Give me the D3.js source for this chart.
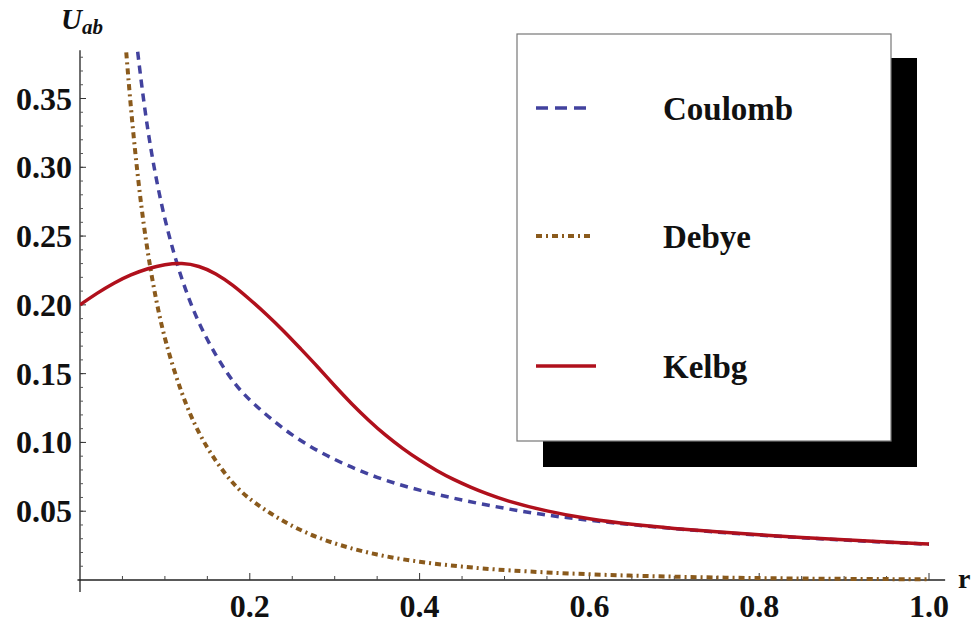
<!DOCTYPE html>
<html>
<head>
<meta charset="utf-8">
<script src="https://cdn.jsdelivr.net/npm/d3@7"></script>
<style>
  body { margin: 0; background: #fff; }
  text { font-family: "Liberation Serif", "Times New Roman", serif; font-weight: bold; }
</style>
</head>
<body>
<div id="chart"></div>
<script>
// chart size
const WIDTH = 977;
const HEIGHT = 624;

// series (r, U_ab)
const coulombR = [0.066, 0.075, 0.085, 0.10, 0.12, 0.14, 0.16, 0.18, 0.20, 0.25, 0.30, 0.35, 0.40, 0.45, 0.50, 0.55, 0.60, 0.70, 0.80, 0.90, 1.00];
const coulombU = [0.394, 0.347, 0.306, 0.260, 0.217, 0.186, 0.163, 0.144, 0.130, 0.104, 0.087, 0.074, 0.065, 0.058, 0.052, 0.047, 0.0433, 0.0371, 0.0325, 0.0289, 0.026];

const debyeR = [0.053, 0.06, 0.07, 0.08, 0.09, 0.10, 0.12, 0.14, 0.16, 0.18, 0.20, 0.25, 0.30, 0.35, 0.40, 0.45, 0.50, 0.60, 0.70, 0.80, 0.90, 1.00];
const debyeU = [0.395, 0.341, 0.281, 0.236, 0.202, 0.174, 0.134, 0.106, 0.086, 0.070, 0.058, 0.038, 0.026, 0.018, 0.013, 0.0096, 0.0070, 0.0039, 0.0023, 0.0013, 0.0008, 0.0005];

const kelbgR = [0, 0.02, 0.04, 0.06, 0.08, 0.10, 0.12, 0.14, 0.16, 0.18, 0.20, 0.22, 0.24, 0.26, 0.28, 0.30, 0.32, 0.34, 0.36, 0.38, 0.40, 0.42, 0.44, 0.46, 0.48, 0.50, 0.55, 0.60, 0.65, 0.70, 0.75, 0.80, 0.85, 0.90, 0.95, 1.00];
const kelbgU = [0.200, 0.2085, 0.216, 0.222, 0.2265, 0.2295, 0.2305, 0.2285, 0.223, 0.2145, 0.204, 0.193, 0.181, 0.168, 0.155, 0.141, 0.128, 0.116, 0.105, 0.0955, 0.087, 0.0795, 0.073, 0.0675, 0.0625, 0.058, 0.0498, 0.0442, 0.0403, 0.0374, 0.0350, 0.0329, 0.0309, 0.0292, 0.0276, 0.0262];

const seriesNames = ["Coulomb", "Debye", "Kelbg"];

// tick labels
const xTicks = [0.2, 0.4, 0.6, 0.8, 1.0];
const yTicks = [0.05, 0.10, 0.15, 0.20, 0.25, 0.30, 0.35];

let series = [
    { name: seriesNames[0], r: coulombR, u: coulombU, color: "#42429e", width: 3.5, dash: "8,6" },
    { name: seriesNames[1], r: debyeR, u: debyeU, color: "#8a5a1c", width: 4, dash: "6,4,2,4" },
    { name: seriesNames[2], r: kelbgR, u: kelbgU, color: "#b0101c", width: 3.5, dash: null }
];

let xScale = d3.scaleLinear().domain([0, 1]).range([80, 929]);
let yScale = d3.scaleLinear().domain([0, 0.35]).range([580, 98.5]);

let svg = d3.select("#chart")
    .append("svg")
    .attr("width", WIDTH)
    .attr("height", HEIGHT);

// clip to plot range
svg.append("clipPath")
    .attr("id", "plotclip")
    .append("rect")
    .attr("x", xScale(0))
    .attr("y", yScale(0.385))
    .attr("width", xScale(1.02) - xScale(0))
    .attr("height", yScale(0) - yScale(0.385) + 2);

// x axis
let gx = svg.append("g")
    .attr("transform", "translate(0," + yScale(0) + ")");

gx.append("line")
    .attr("x1", xScale(-0.003)).attr("x2", xScale(1.019))
    .attr("stroke", "#222").attr("stroke-width", 1.3);

gx.selectAll(".minor")
    .data(d3.range(1, 20).map(i => i * 0.05).filter(v => Math.abs(v * 5 - Math.round(v * 5)) > 1e-6))
    .enter().append("line")
    .attr("x1", d => xScale(d)).attr("x2", d => xScale(d))
    .attr("y1", 0).attr("y2", -4)
    .attr("stroke", "#444").attr("stroke-width", 1);

gx.selectAll(".major")
    .data(xTicks)
    .enter().append("line")
    .attr("x1", d => xScale(d)).attr("x2", d => xScale(d))
    .attr("y1", 0).attr("y2", -7)
    .attr("stroke", "#333").attr("stroke-width", 1);

gx.selectAll(".xlabel")
    .data(xTicks)
    .enter().append("text")
    .attr("x", d => xScale(d))
    .attr("y", 37)
    .attr("text-anchor", "middle")
    .attr("font-size", 32)
    .attr("fill", "#111")
    .text(d => d3.format(".1f")(d));

// y axis
let gy = svg.append("g")
    .attr("transform", "translate(" + xScale(0) + ",0)");

gy.append("line")
    .attr("y1", yScale(0.385)).attr("y2", yScale(0) + 12)
    .attr("stroke", "#222").attr("stroke-width", 1.3);

gy.selectAll(".minor")
    .data(d3.range(1, 39).map(i => i * 0.01))
    .enter().append("line")
    .attr("y1", d => yScale(d)).attr("y2", d => yScale(d))
    .attr("x1", 0).attr("x2", 3)
    .attr("stroke", "#555").attr("stroke-width", 1);

gy.selectAll(".major")
    .data(yTicks)
    .enter().append("line")
    .attr("y1", d => yScale(d)).attr("y2", d => yScale(d))
    .attr("x1", 0).attr("x2", 6)
    .attr("stroke", "#333").attr("stroke-width", 1);

gy.selectAll(".ylabel")
    .data(yTicks)
    .enter().append("text")
    .attr("x", -8)
    .attr("y", d => yScale(d) + 11)
    .attr("text-anchor", "end")
    .attr("font-size", 32)
    .attr("fill", "#111")
    .text(d => d3.format(".2f")(d));

// axis titles
let ylab = svg.append("text")
    .attr("x", 61)
    .attr("y", 29)
    .attr("font-size", 29)
    .attr("font-style", "italic")
    .attr("fill", "#111");
ylab.append("tspan").text("U");
ylab.append("tspan").attr("font-size", 21).attr("dy", 5).text("ab");

svg.append("text")
    .attr("x", 958)
    .attr("y", 588)
    .attr("font-size", 28)
    .attr("font-weight", "normal")
    .attr("fill", "#111")
    .text("r");

// curves
let line = d3.line()
    .x(d => d[0])
    .y(d => d[1])
    .curve(d3.curveBasis);

let plot = svg.append("g").attr("clip-path", "url(#plotclip)");

series.forEach(s => {
    let pts = s.r.map((r, i) => [xScale(r), yScale(s.u[i])]);
    plot.append("path")
        .attr("d", line(pts))
        .attr("fill", "none")
        .attr("stroke", s.color)
        .attr("stroke-width", s.width)
        .attr("stroke-dasharray", s.dash);
});

// legend with drop shadow
let legend = svg.append("g");

legend.append("rect")
    .attr("x", 543).attr("y", 58)
    .attr("width", 374).attr("height", 409)
    .attr("fill", "#000");

legend.append("rect")
    .attr("x", 517).attr("y", 34)
    .attr("width", 374).attr("height", 407)
    .attr("fill", "#fff")
    .attr("stroke", "#777")
    .attr("stroke-width", 1.2);

const legendY = [108, 236, 366];

legend.selectAll(".sample")
    .data(series)
    .enter().append("line")
    .attr("x1", 536).attr("x2", (d, i) => [586, 590, 596][i])
    .attr("y1", (d, i) => legendY[i]).attr("y2", (d, i) => legendY[i])
    .attr("stroke", d => d.color)
    .attr("stroke-width", d => d.width)
    .attr("stroke-dasharray", d => d.name == "Coulomb" ? "12,7" : d.dash);

legend.selectAll(".label")
    .data(series)
    .enter().append("text")
    .attr("x", 663)
    .attr("y", (d, i) => legendY[i] + 12)
    .attr("font-size", 33)
    .attr("fill", "#111")
    .text(d => d.name);
</script>
</body>
</html>
